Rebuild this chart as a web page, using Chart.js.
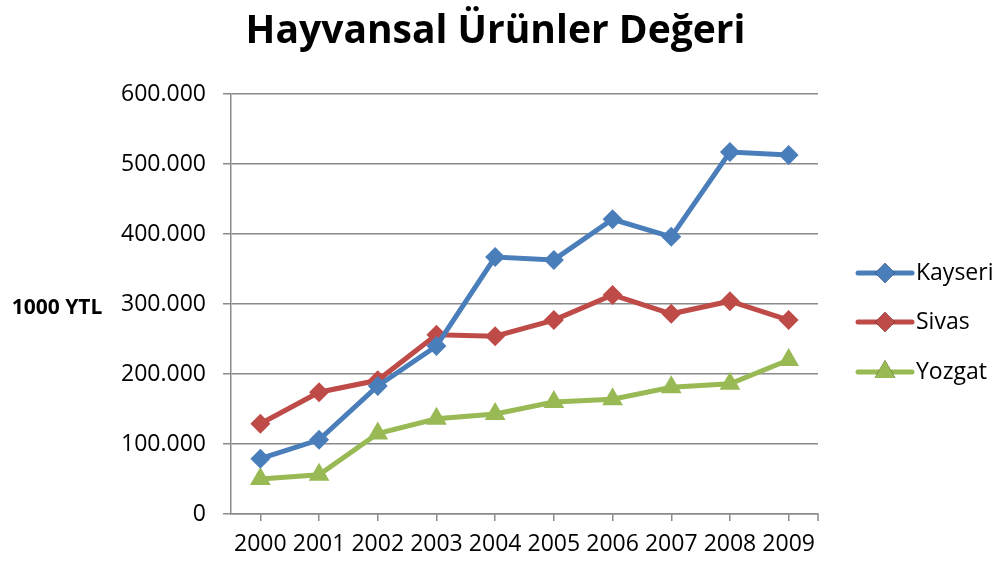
<!DOCTYPE html>
<html>
<head>
<meta charset="utf-8">
<script src="https://cdn.jsdelivr.net/npm/chart.js@4/dist/chart.umd.min.js"></script>
<style>
html,body{margin:0;padding:0;background:#fff;}
#wrap{width:999px;height:563px;position:relative;}
</style>
</head>
<body>
<div id="wrap"><canvas id="c" width="999" height="563"></canvas></div>
<script>
const chartTitle = "Hayvansal Ürünler Değeri";
const yAxisLabel = "1000 YTL";
const years = ["2000","2001","2002","2003","2004","2005","2006","2007","2008","2009"];
const kayseri = [79000, 106000, 183000, 240000, 367000, 363000, 421000, 396000, 517000, 513000];
const sivas   = [129000, 174000, 191000, 256000, 254000, 277000, 313000, 286000, 304000, 277000];
const yozgat  = [50000, 56000, 115000, 136000, 143000, 160000, 164000, 181000, 186000, 220000];
const seriesNames = ["Kayseri","Sivas","Yozgat"];
const yMin = 0, yMax = 600000, yStep = 100000;

const FONT = "'Open Sans', 'Noto Sans', sans-serif";
const colors = ["#4A7EBB","#BE4B48","#98B954"];
const markers = ["rectRot","rectRot","triangle"];
const markerSizes = [10,10,12];

function fmt(v){
  const s = String(Math.round(v));
  return s.replace(/\B(?=(\d{3})+(?!\d))/g, ".");
}

const decor = {
  id: "decor",
  afterDraw(chart){
    const ctx = chart.ctx, a = chart.chartArea;
    ctx.save();
    // title
    ctx.fillStyle = "#000";
    ctx.font = "bold 39px " + FONT;
    ctx.textAlign = "center";
    ctx.textBaseline = "middle";
    ctx.fillText(chartTitle, chart.width/2 - 4, 32);
    // y label
    ctx.font = "bold 21px " + FONT;
    ctx.fillText(yAxisLabel, 57, (a.top + a.bottom)/2 + 4);
    // end tick on x axis
    ctx.strokeStyle = "#8a8a8a";
    ctx.lineWidth = 1.5;
    ctx.beginPath();
    ctx.moveTo(a.right, a.bottom);
    ctx.lineTo(a.right, a.bottom + 7);
    ctx.stroke();
    // legend
    const rows = [273, 322, 372];
    chart.data.datasets.forEach((ds, i) => {
      const y = rows[i];
      const x0 = a.right + 40, x1 = a.right + 94;
      ctx.strokeStyle = ds.borderColor;
      ctx.lineWidth = 5;
      ctx.lineCap = "round";
      ctx.beginPath();
      ctx.moveTo(x0, y); ctx.lineTo(x1, y); ctx.stroke();
      Chart.helpers.drawPoint(ctx, {pointStyle: ds.pointStyle, radius: ds.pointRadius, borderWidth: 0, rotation: 0}, (x0+x1)/2, y);
      ctx.fillStyle = ds.borderColor;
      ctx.fill();
      ctx.fillStyle = "#000";
      ctx.font = "23px " + FONT;
      ctx.textAlign = "left";
      ctx.fillText(ds.label, x1 + 4, y);
    });
    ctx.restore();
  }
};

const seriesData = [kayseri, sivas, yozgat];
new Chart(document.getElementById("c"), {
  type: "line",
  data: {
    labels: years,
    datasets: seriesData.map((d, i) => ({
      label: seriesNames[i],
      data: d,
      borderColor: colors[i],
      backgroundColor: colors[i],
      borderWidth: 5,
      pointStyle: markers[i],
      pointRadius: markerSizes[i],
      pointBorderWidth: 0,
      pointBackgroundColor: colors[i],
      tension: 0
    }))
  },
  options: {
    responsive: false,
    animation: false,
    layout: {padding: {top: 94, right: 181, bottom: 0, left: 0}},
    plugins: {legend: {display: false}, title: {display: false}, tooltip: {enabled: false}},
    scales: {
      x: {
        offset: true,
        grid: {offset: false, drawOnChartArea: false, drawTicks: true, tickLength: 7, color: "#8a8a8a", lineWidth: 1.5},
        border: {color: "#8a8a8a", width: 1.5},
        ticks: {color: "#000", font: {family: FONT, size: 23}, padding: 10, maxRotation: 0, autoSkip: false},
        afterFit(s){ s.height = 49; }
      },
      y: {
        min: yMin, max: yMax,
        grid: {color: "#8a8a8a", lineWidth: 1.5, tickLength: 8},
        border: {color: "#8a8a8a", width: 1.5},
        ticks: {stepSize: yStep, color: "#000", font: {family: FONT, size: 23}, padding: 17, callback: v => fmt(v)},
        afterFit(s){ s.width = 231; }
      }
    }
  },
  plugins: [decor]
});
</script>
</body>
</html>
